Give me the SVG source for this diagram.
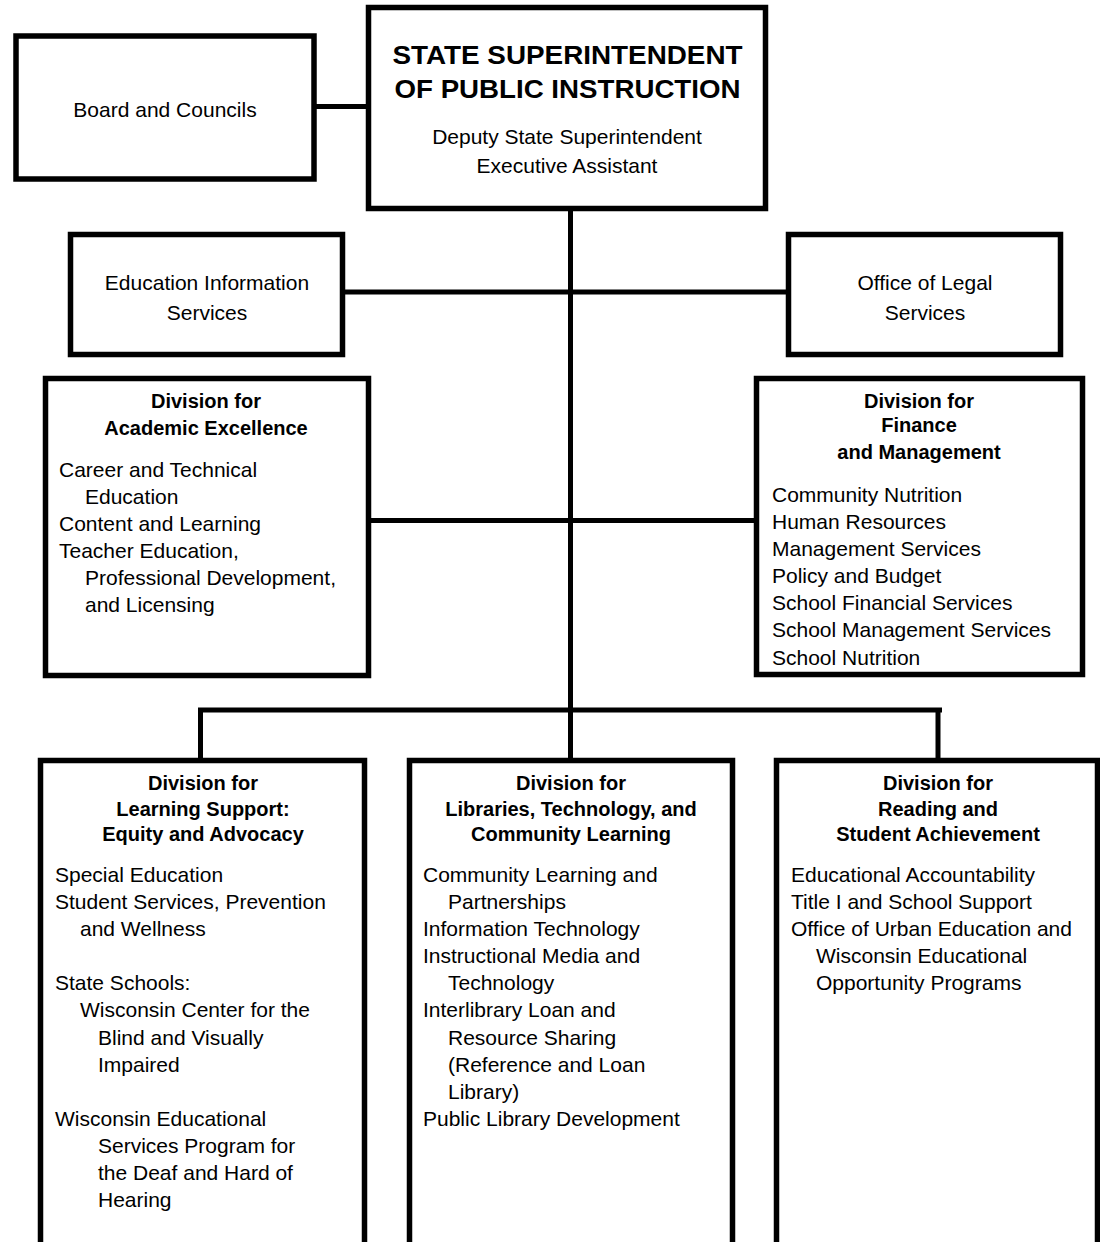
<svg xmlns="http://www.w3.org/2000/svg" width="1100" height="1242" viewBox="0 0 1100 1242">
<style>
  .box { fill: #fff; stroke: #000; stroke-width: 5.5; }
  .conn { stroke: #000; stroke-width: 5; fill: none; }
  text { font-family: "Liberation Sans", Arial, Helvetica, sans-serif; fill: #000; }
  .t { font-size: 21px; }
  .c { text-anchor: middle; }
  .h { font-size: 20px; font-weight: bold; text-anchor: middle; }
  .title { font-size: 25px; font-weight: bold; text-anchor: middle; }
</style>
<rect x="0" y="0" width="1100" height="1242" fill="#fff"/>

<g id="connectors">
  <line class="conn" x1="316" y1="106.5" x2="367" y2="106.5"/>
  <line class="conn" x1="570.5" y1="210" x2="570.5" y2="759"/>
  <line class="conn" x1="344" y1="292" x2="787" y2="292"/>
  <line class="conn" x1="370" y1="520.5" x2="755" y2="520.5"/>
  <line class="conn" x1="198" y1="710" x2="942" y2="710"/>
  <line class="conn" x1="200.5" y1="710" x2="200.5" y2="759"/>
  <line class="conn" x1="938" y1="710" x2="938" y2="759"/>
</g>

<g id="superintendent">
  <rect class="box" x="368.5" y="7.5" width="397" height="201"/>
  <text class="title" x="567.5" y="64" textLength="350" lengthAdjust="spacingAndGlyphs">STATE SUPERINTENDENT</text>
  <text class="title" x="567.5" y="98" textLength="346" lengthAdjust="spacingAndGlyphs">OF PUBLIC INSTRUCTION</text>
  <text class="t c" x="567" y="144">Deputy State Superintendent</text>
  <text class="t c" x="567" y="173">Executive Assistant</text>
</g>

<g id="board">
  <rect class="box" x="16" y="36" width="298" height="143"/>
  <text class="t c" x="165" y="117">Board and Councils</text>
</g>

<g id="edu-info">
  <rect class="box" x="70.5" y="234.5" width="272" height="120"/>
  <text class="t c" x="207" y="290">Education Information</text>
  <text class="t c" x="207" y="320">Services</text>
</g>

<g id="legal">
  <rect class="box" x="788.5" y="234.5" width="272" height="120"/>
  <text class="t c" x="925" y="290">Office of Legal</text>
  <text class="t c" x="925" y="320">Services</text>
</g>

<g id="academic">
  <rect class="box" x="45.5" y="378.5" width="323" height="297"/>
  <text class="h" x="206" y="408">Division for</text>
  <text class="h" x="206" y="435">Academic Excellence</text>
  <text class="t" x="59" y="477">Career and Technical</text>
  <text class="t" x="85" y="504">Education</text>
  <text class="t" x="59" y="531">Content and Learning</text>
  <text class="t" x="59" y="558">Teacher Education,</text>
  <text class="t" x="85" y="585">Professional Development,</text>
  <text class="t" x="85" y="612">and Licensing</text>
</g>

<g id="finance">
  <rect class="box" x="756.5" y="378.5" width="326" height="296"/>
  <text class="h" x="919" y="408">Division for</text>
  <text class="h" x="919" y="432">Finance</text>
  <text class="h" x="919" y="459">and Management</text>
  <text class="t" x="772" y="502">Community Nutrition</text>
  <text class="t" x="772" y="529">Human Resources</text>
  <text class="t" x="772" y="556">Management Services</text>
  <text class="t" x="772" y="583">Policy and Budget</text>
  <text class="t" x="772" y="610">School Financial Services</text>
  <text class="t" x="772" y="637">School Management Services</text>
  <text class="t" x="772" y="665">School Nutrition</text>
</g>

<g id="learning-support">
  <rect class="box" x="40.5" y="760.5" width="324" height="520"/>
  <text class="h" x="203" y="790">Division for</text>
  <text class="h" x="203" y="816">Learning Support:</text>
  <text class="h" x="203" y="841">Equity and Advocacy</text>
  <text class="t" x="55" y="882">Special Education</text>
  <text class="t" x="55" y="909">Student Services, Prevention</text>
  <text class="t" x="80" y="936">and Wellness</text>
  <text class="t" x="55" y="990">State Schools:</text>
  <text class="t" x="80" y="1017">Wisconsin Center for the</text>
  <text class="t" x="98" y="1045">Blind and Visually</text>
  <text class="t" x="98" y="1072">Impaired</text>
  <text class="t" x="55" y="1126">Wisconsin Educational</text>
  <text class="t" x="98" y="1153">Services Program for</text>
  <text class="t" x="98" y="1180">the Deaf and Hard of</text>
  <text class="t" x="98" y="1207">Hearing</text>
</g>

<g id="libraries">
  <rect class="box" x="409.5" y="760.5" width="323" height="520"/>
  <text class="h" x="571" y="790">Division for</text>
  <text class="h" x="571" y="816">Libraries, Technology, and</text>
  <text class="h" x="571" y="841">Community Learning</text>
  <text class="t" x="423" y="882">Community Learning and</text>
  <text class="t" x="448" y="909">Partnerships</text>
  <text class="t" x="423" y="936">Information Technology</text>
  <text class="t" x="423" y="963">Instructional Media and</text>
  <text class="t" x="448" y="990">Technology</text>
  <text class="t" x="423" y="1017">Interlibrary Loan and</text>
  <text class="t" x="448" y="1045">Resource Sharing</text>
  <text class="t" x="448" y="1072">(Reference and Loan</text>
  <text class="t" x="448" y="1099">Library)</text>
  <text class="t" x="423" y="1126">Public Library Development</text>
</g>

<g id="reading">
  <rect class="box" x="776.5" y="760.5" width="321" height="520"/>
  <text class="h" x="938" y="790">Division for</text>
  <text class="h" x="938" y="816">Reading and</text>
  <text class="h" x="938" y="841">Student Achievement</text>
  <text class="t" x="791" y="882">Educational Accountability</text>
  <text class="t" x="791" y="909">Title I and School Support</text>
  <text class="t" x="791" y="936">Office of Urban Education and</text>
  <text class="t" x="816" y="963">Wisconsin Educational</text>
  <text class="t" x="816" y="990">Opportunity Programs</text>
</g>
</svg>
